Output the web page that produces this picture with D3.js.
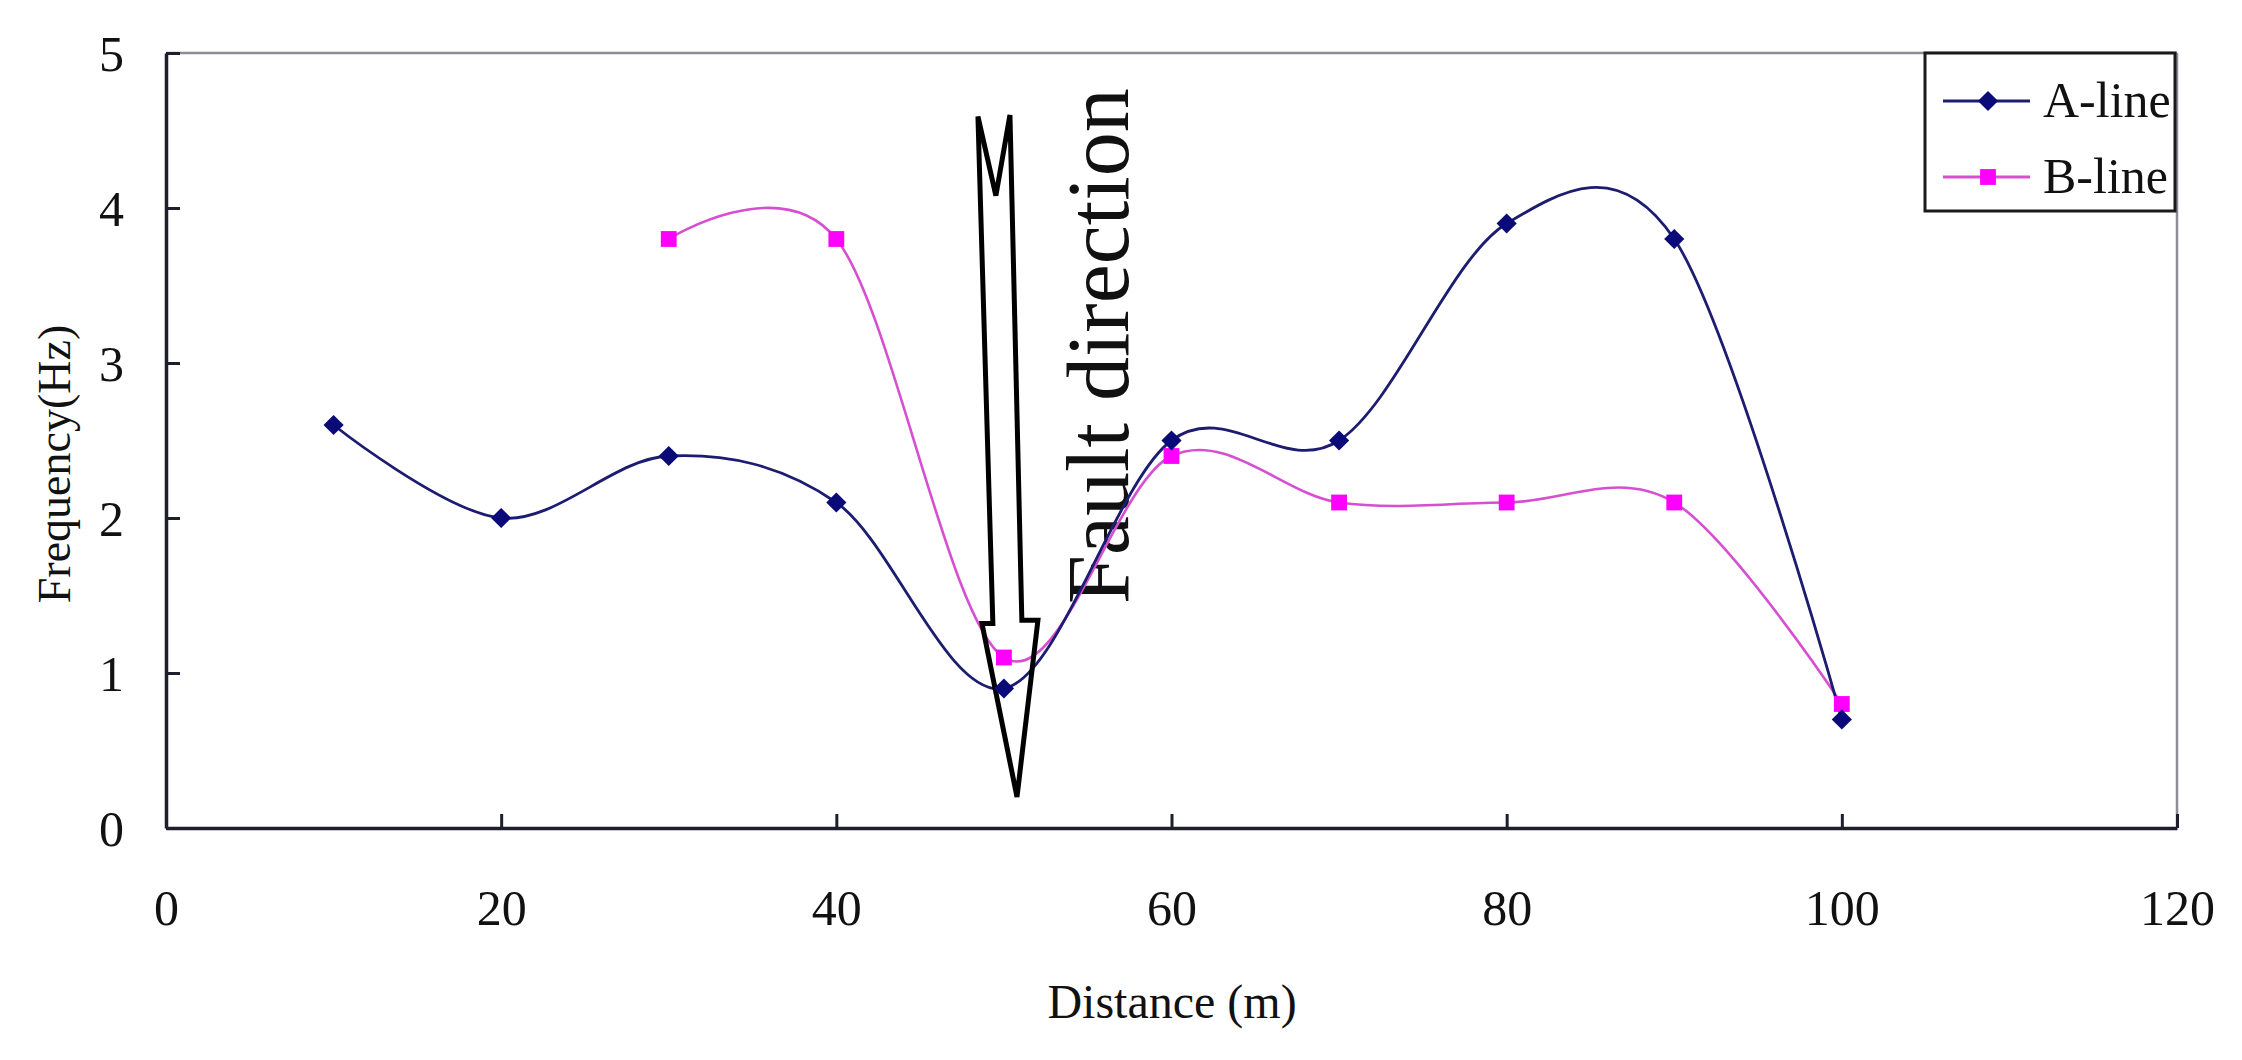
<!DOCTYPE html>
<html>
<head>
<meta charset="utf-8">
<script src="https://cdn.jsdelivr.net/npm/d3@7"></script>
<style>
  html, body { margin: 0; padding: 0; background: #fff; }
  svg { display: block; }
  text { font-family: "Liberation Serif", "Times New Roman", serif; fill: #111; }
</style>
</head>
<body>
<svg id="chart" width="2242" height="1060"></svg>
<script>
// ---- data ----
const distances = [10, 20, 30, 40, 50, 60, 70, 80, 90, 100];
const aLine = [2.6, 2.0, 2.4, 2.1, 0.9, 2.5, 2.5, 3.9, 3.8, 0.7];
const bDistances = [30, 40, 50, 60, 70, 80, 90, 100];
const bLine = [3.8, 3.8, 1.1, 2.4, 2.1, 2.1, 2.1, 0.8];
const xTicks = [0, 20, 40, 60, 80, 100, 120];
const yTicks = [0, 1, 2, 3, 4, 5];
const seriesNames = ["A-line", "B-line"];
// fault arrow outline, in data units (distance, frequency)
const arrowX = [48.45, 49.52, 50.36, 51.07, 52.03, 50.78, 48.69, 49.34];
const arrowY = [4.59, 4.08, 4.60, 1.34, 1.34, 0.20, 1.32, 1.32];
const annotation = "Fault direction";

(function () {
// ---- layout ----
const svg = d3.select("#chart");
const pL = 166, pR = 2177, pT = 53, pB = 828;
const x = d3.scaleLinear().domain([0, 120]).range([pL, pR]);
const y = d3.scaleLinear().domain([0, 5]).range([pB, pT]);

const colA = "#0a0a78", colALine = "#1c1c70";
const colB = "#ff00ff", colBLine = "#d64fd0";

// plot frame (top/right thin grey)
svg.append("line").attr("x1", pL).attr("x2", pR).attr("y1", pT).attr("y2", pT)
  .attr("stroke", "#8d8d96").attr("stroke-width", 2.5);
svg.append("line").attr("x1", pR).attr("x2", pR).attr("y1", pT).attr("y2", pB)
  .attr("stroke", "#8d8d96").attr("stroke-width", 2.5);

// axes
const xAxis = d3.axisBottom(x).tickValues(xTicks).tickFormat(d3.format("d"))
  .tickSizeInner(-14).tickSizeOuter(0).tickPadding(64);
const gx = svg.append("g").attr("transform", `translate(0,${pB})`).call(xAxis);
gx.select(".domain").attr("stroke", "#1e1e2c").attr("stroke-width", 3.5);
gx.selectAll(".tick line").attr("stroke", "#1e1e2c").attr("stroke-width", 3);
gx.selectAll(".tick text").attr("font-size", 50).attr("fill", "#111")
  .attr("font-family", "Liberation Serif, serif").attr("dy", 0).attr("y", 97);

const yAxis = d3.axisLeft(y).tickValues(yTicks).tickFormat(d3.format("d"))
  .tickSizeInner(-14).tickSizeOuter(0).tickPadding(40);
const gy = svg.append("g").attr("transform", `translate(${pL},0)`).call(yAxis);
gy.select(".domain").attr("stroke", "#1e1e2c").attr("stroke-width", 3.5);
gy.selectAll(".tick line").attr("stroke", "#1e1e2c").attr("stroke-width", 3);
gy.selectAll(".tick text").attr("font-size", 50).attr("fill", "#111")
  .attr("font-family", "Liberation Serif, serif").attr("x", -42).attr("dy", "0.34em");

// axis titles
svg.append("text").attr("x", 1172).attr("y", 1018).attr("text-anchor", "middle")
  .attr("font-size", 48).text("Distance (m)");
svg.append("text").attr("transform", "translate(70,464) rotate(-90)").attr("text-anchor", "middle")
  .attr("font-size", 46).text("Frequency(Hz)");

// annotation text
svg.append("text").attr("transform", "translate(1128,604) rotate(-90)").attr("text-anchor", "start")
  .attr("font-size", 88).attr("fill", "#000").text(annotation);

// curves
const curve = d3.curveCardinal.tension(0);
const aData = distances.map((d, i) => [d, aLine[i]]);
const bData = bDistances.map((d, i) => [d, bLine[i]]);
const lineGen = d3.line().x(d => x(d[0])).y(d => y(d[1])).curve(curve);

svg.append("path").datum(bData).attr("d", lineGen).attr("fill", "none")
  .attr("stroke", colBLine).attr("stroke-width", 2.6);
svg.append("path").datum(aData).attr("d", lineGen).attr("fill", "none")
  .attr("stroke", colALine).attr("stroke-width", 2.8);

// arrow
const arrowPts = arrowX.map((d, i) => [x(d), y(arrowY[i])]);
svg.append("path").attr("d", d3.line()(arrowPts) + "Z").attr("fill", "none")
  .attr("stroke", "#000").attr("stroke-width", 5).attr("stroke-linejoin", "miter");

// markers
const diamond = d3.symbol().type(d3.symbolDiamond2).size(260);
const square = d3.symbol().type(d3.symbolSquare).size(250);
svg.append("g").selectAll("path").data(bData).join("path")
  .attr("transform", d => `translate(${x(d[0])},${y(d[1])})`)
  .attr("d", square).attr("fill", colB);
svg.append("g").selectAll("path").data(aData).join("path")
  .attr("transform", d => `translate(${x(d[0])},${y(d[1])})`)
  .attr("d", diamond).attr("fill", colA);

// legend
const lg = svg.append("g");
lg.append("rect").attr("x", 1925).attr("y", 53).attr("width", 250).attr("height", 158)
  .attr("fill", "#fff").attr("stroke", "#1a1a1a").attr("stroke-width", 3);
const legendRows = [
  { name: seriesNames[0], y: 101, col: colA, lineCol: colALine, sym: diamond },
  { name: seriesNames[1], y: 177, col: colB, lineCol: colBLine, sym: square }
];
legendRows.forEach(r => {
  lg.append("line").attr("x1", 1943).attr("x2", 2030).attr("y1", r.y).attr("y2", r.y)
    .attr("stroke", r.lineCol).attr("stroke-width", 3);
  lg.append("path").attr("transform", `translate(1988,${r.y})`).attr("d", r.sym).attr("fill", r.col);
  lg.append("text").attr("x", 2043).attr("y", r.y + 16).attr("font-size", 50).text(r.name);
});
})();
</script>
</body>
</html>
